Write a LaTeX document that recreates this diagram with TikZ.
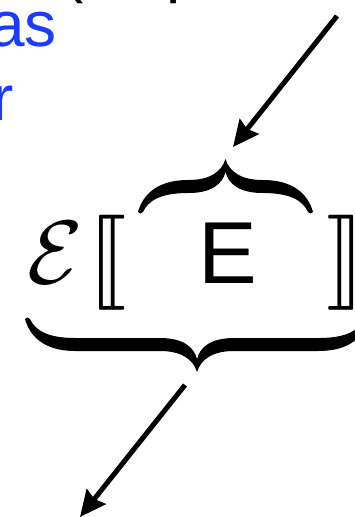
\documentclass[tikz,border=0pt]{standalone}
\usepackage{amsmath}
\usepackage{stmaryrd}
\usepackage{fontspec}
\newfontfamily\slidefont{Liberation Sans}
\usetikzlibrary{arrows.meta}
\definecolor{slideblue}{RGB}{25,60,255}

% filled brace of width #1, tip towards +y
\newcommand{\bracepath}[1]{(0,0) .. controls (5,18) and (20,32) .. (50,32)
  -- ({#1/2-37},32) .. controls ({#1/2-16},32) and ({#1/2-4},40) .. ({#1/2},53)
  .. controls ({#1/2+4},40) and ({#1/2+16},32) .. ({#1/2+37},32)
  -- ({#1-50},32) .. controls ({#1-20},32) and ({#1-5},18) .. (#1,0)
  .. controls ({#1-1},-2) and ({#1-4},-2) .. ({#1-5},0)
  .. controls ({#1-10},11) and ({#1-22},19) .. ({#1-50},19)
  -- ({#1/2+37},19) .. controls ({#1/2+14},19) and ({#1/2+3},28) .. ({#1/2},40)
  .. controls ({#1/2-3},28) and ({#1/2-14},19) .. ({#1/2-37},19)
  -- (50,19) .. controls (22,19) and (10,11) .. (5,0)
  .. controls (4,-2) and (1,-2) .. (0,0) -- cycle}

\begin{document}
\begin{tikzpicture}[x=1pt, y=-1pt, >={Stealth[length=26pt,width=24pt,inset=3pt]},
    big/.style={inner sep=0pt, font=\slidefont\fontsize{88}{88}\selectfont},
    line/.style={inner sep=0pt, font=\slidefont\fontsize{64}{64}\selectfont},
    glyph/.style={inner sep=0pt, font=\fontsize{10}{12}\selectfont}]
        \useasboundingbox (0,0) rectangle (355,517);
        \clip (0,0) rectangle (355,517);
        \path
        (-8,120) coordinate (1)
        (57,46) coordinate (2)
        (62,-10) coordinate (3)
        (166,-10) coordinate (4)
        (27,283) coordinate (5)
        (88,286) coordinate (6)
        (198,283) coordinate (7)
        (326,286) coordinate (8)
        (337,16) coordinate (9)
        (233,147) coordinate (10)
        (185,385) coordinate (11)
        (80,517) coordinate (12)
        ;

        \draw
        (1) node[line, anchor=base west, text=slideblue] (wordr) {r}
        (2) node[line, anchor=base east, text=slideblue] (wordas) {as}
        (3) node[line, anchor=base west] (paren) {(}
        (4) node[line, anchor=base west] (letterp) {p}
        (5) node[glyph, anchor=base west] (eps) {\scalebox{9}{$\mathcal{E}$}}
        (6) node[glyph, anchor=base west] (lbr) {\scalebox{9.5}{$\llbracket$}}
        (7) node[big, anchor=base west] (expr) {E}
        (8) node[glyph, anchor=base west] (rbr) {\scalebox{9.5}{$\rrbracket$}}
        ;

        \fill[shift={(138,212)}, yscale=-1] \bracepath{175};
        \fill[shift={(25,319)}] \bracepath{344};

        \draw[line width=5pt,->] (9) to (10);
        \draw[line width=5pt,->] (11) to (12);
\end{tikzpicture}
\end{document}
